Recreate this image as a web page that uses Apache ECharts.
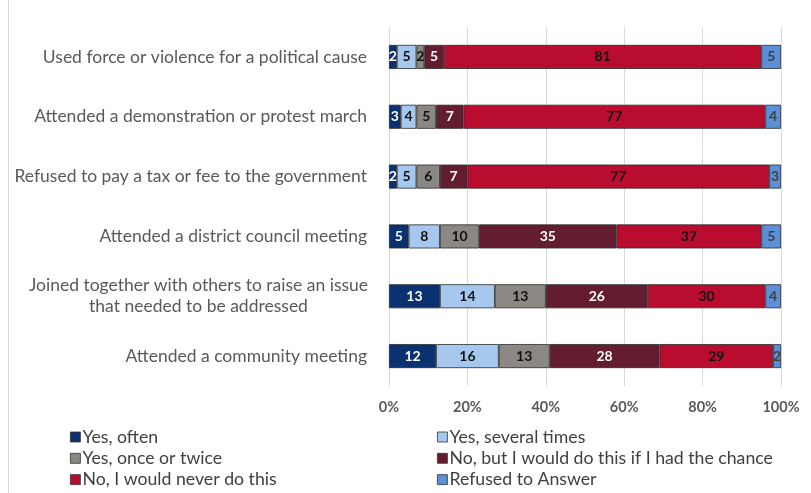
<!DOCTYPE html>
<html>
<head>
<meta charset="utf-8">
<script src="https://cdn.jsdelivr.net/npm/echarts@6/dist/echarts.min.js"></script>
<style>
  html, body { margin: 0; padding: 0; background: #ffffff; }
  #chart { width: 811px; height: 493px; }
</style>
</head>
<body>
<div id="chart"></div>
<script>
// Survey items, top to bottom
const categories = [
  'Used force or violence for a political cause',
  'Attended a demonstration or protest march',
  'Refused to pay a tax or fee to the government',
  'Attended a district council meeting',
  'Joined together with others to raise an issue\nthat needed to be addressed',
  'Attended a community meeting'
];

// Response shares (%) per item, same order as categories
const yesOften       = [2, 3, 2, 5, 13, 12];
const yesSeveral     = [5, 4, 5, 8, 14, 16];
const yesOnceTwice   = [2, 5, 6, 10, 13, 13];
const noWouldIfCould = [5, 7, 7, 35, 26, 28];
const noNever        = [81, 77, 77, 37, 30, 29];
const refused        = [5, 4, 3, 5, 4, 2];

const xTicks = [0, 20, 40, 60, 80, 100];

const FONT = 'Lato, "Open Sans", sans-serif';

const seriesDefs = [
  { name: 'Yes, often', data: yesOften, color: '#0B3170', label: '#ffffff' },
  { name: 'Yes, several times', data: yesSeveral, color: '#A7C8EE', label: '#111111' },
  { name: 'Yes, once or twice', data: yesOnceTwice, color: '#8B8884', label: '#111111' },
  { name: 'No, but I would do this if I had the chance', data: noWouldIfCould, color: '#641D30', label: '#ffffff' },
  { name: 'No, I would never do this', data: noNever, color: '#BA0C2F', label: '#111111' },
  { name: 'Refused to Answer', data: refused, color: '#5B8FD7', label: '#404040' }
];

const chart = echarts.init(document.getElementById('chart'), null, { renderer: 'canvas' });

const legendCommon = {
  orient: 'vertical',
  padding: 0,
  height: 80,
  itemWidth: 10,
  itemHeight: 10,
  itemGap: 3.3,
  icon: 'rect',
  selectedMode: false,
  textStyle: { fontFamily: FONT, fontSize: 17.7, color: '#404040', lineHeight: 16, padding: [0, 0, 0, -3] },
  itemStyle: { borderColor: '#333333', borderWidth: 0.8 }
};

chart.setOption({
  animation: false,
  backgroundColor: '#ffffff',
  textStyle: { fontFamily: FONT },
  grid: { left: 389, right: 30, top: 27, bottom: 107, containLabel: false },
  graphic: [{
    type: 'line',
    shape: { x1: 8.5, y1: 0, x2: 8.5, y2: 493 },
    style: { stroke: '#d9d9d9', lineWidth: 1 }
  }],
  legend: [
    Object.assign({}, legendCommon, {
      left: 70, top: 428,
      data: [seriesDefs[0].name, seriesDefs[2].name, seriesDefs[4].name]
    }),
    Object.assign({}, legendCommon, {
      left: 437, top: 428,
      data: [seriesDefs[1].name, seriesDefs[3].name, seriesDefs[5].name]
    })
  ],
  xAxis: {
    type: 'value',
    min: xTicks[0],
    max: xTicks[xTicks.length - 1],
    interval: xTicks[1] - xTicks[0],
    axisLine: { show: false },
    axisTick: { show: false },
    splitLine: { lineStyle: { color: '#d9d9d9', width: 1 } },
    axisLabel: {
      formatter: '{value}%',
      fontFamily: FONT,
      fontSize: 14.5,
      fontWeight: 'bold',
      color: '#595959',
      margin: 14
    }
  },
  yAxis: {
    type: 'category',
    data: categories,
    inverse: true,
    axisLine: { show: false },
    axisTick: { show: false },
    axisLabel: {
      margin: 22,
      fontFamily: FONT,
      fontSize: 17.5,
      color: '#595959',
      formatter: function (v) {
        return v.indexOf('\n') >= 0 ? '{c|' + v + '}' : v;
      },
      rich: {
        c: { width: 337, align: 'center', fontFamily: FONT, fontSize: 17.5, color: '#595959', lineHeight: 21 }
      }
    }
  },
  series: seriesDefs.map(function (s) {
    return {
      name: s.name,
      type: 'bar',
      stack: 'total',
      barWidth: 24,
      data: s.data,
      itemStyle: { color: s.color, borderColor: '#2b2b2b', borderWidth: 0.8 },
      label: {
        show: true,
        position: 'inside',
        fontFamily: FONT,
        fontSize: 14,
        fontWeight: 'bold',
        color: s.label
      }
    };
  })
});
</script>
</body>
</html>
